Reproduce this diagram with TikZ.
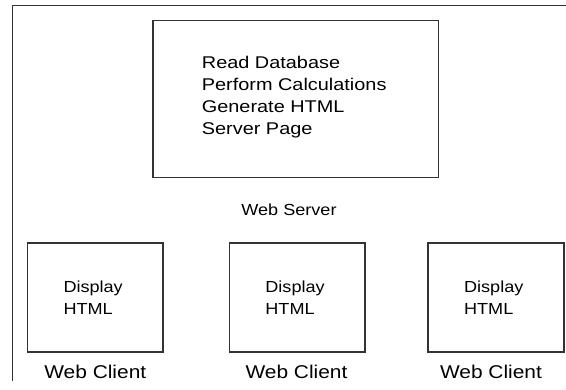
\documentclass[tikz,border=0pt]{standalone}
\usepackage{fontspec}
\setmainfont[FakeStretch=1.13]{Liberation Sans}
\newfontfamily\widefont[FakeStretch=1.17]{Liberation Sans}
\definecolor{linegray}{HTML}{333333}
\begin{document}
\begin{tikzpicture}[x=1pt,y=-1pt,
  frame/.style={draw=linegray,line width=1.6pt},
  boxstyle/.style={draw=linegray,line width=1.6pt,inner sep=0pt},
  bodytext/.style={anchor=base west,inner sep=0pt,align=left},
  caption/.style={anchor=base,inner sep=0pt}]
\useasboundingbox (0,0) rectangle (566,390);
% outer frame
\coordinate (fbl) at (12.3,381);
\coordinate (ftl) at (12.3,5.7);
\coordinate (ftr) at (567,5.7);
\draw[frame] (fbl) -- (ftl) -- (ftr);
% server box
\node[boxstyle,minimum width=285.7pt,minimum height=157pt,anchor=north west] (server) at (152,19.7) {};
\node[bodytext,font=\widefont\fontsize{17}{22.1}\selectfont] (stext) at (201.7,135) {Read Database\\Perform Calculations\\Generate HTML\\Server Page};
\node[caption,font=\fontsize{16}{19}\selectfont] (slabel) at (289,215.7) {Web Server};
% clients
\foreach \i/\x/\cx in {1/26.7/95.3, 2/228.6/296.5, 3/427.3/491}{
  \node[boxstyle,minimum width=135.6pt,minimum height=108.7pt,anchor=north west] (client\i) at (\x,242.3) {};
  \node[bodytext,font=\fontsize{16}{22}\selectfont] (ctext\i) at (\x+36.6,314.3) {Display\\HTML};
  \node[caption,font=\fontsize{18.5}{22}\selectfont] (clabel\i) at (\cx,378.3) {Web Client};
}
\end{tikzpicture}
\end{document}
